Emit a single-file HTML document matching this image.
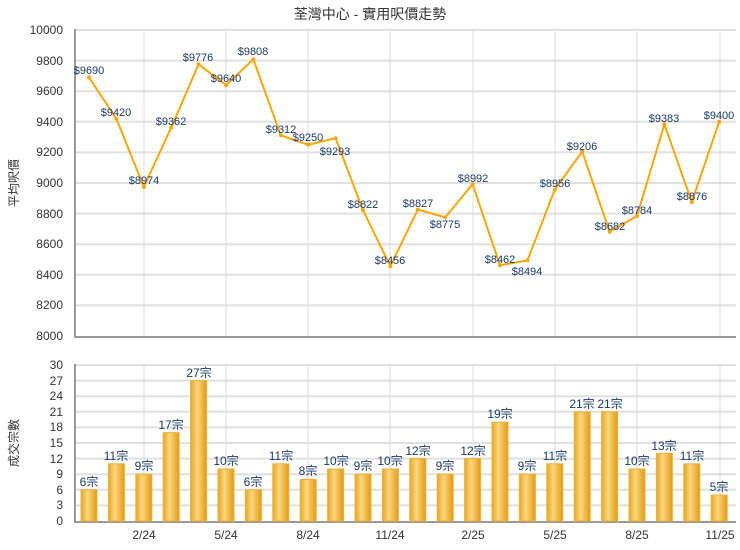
<!DOCTYPE html>
<html><head><meta charset="utf-8"><style>
body{margin:0;background:#fff}
svg{display:block;font-family:"Liberation Sans","Noto Sans CJK TC",sans-serif}
.yl{font-size:12px;fill:#333;text-anchor:end}
.xl{font-size:12px;fill:#333;text-anchor:middle}
.pl{font-size:11px;fill:#1a3a6b;text-anchor:middle}
.bl{font-size:12px;fill:#1a3a6b;text-anchor:middle}
.g{stroke:#e0e0e0;stroke-width:2}
.v{stroke:#dcdcdc;stroke-width:1}
</style></head><body>
<svg width="740" height="550" viewBox="0 0 740 550">
<defs><linearGradient id="bg" x1="0" x2="1" y1="0" y2="0">
<stop offset="0" stop-color="#e9a520"/><stop offset="0.4" stop-color="#fcd77f"/><stop offset="1" stop-color="#e39a12"/></linearGradient></defs>
<text x="370" y="19" text-anchor="middle" font-size="14" fill="#333">荃灣中心 - 實用呎價走勢</text>
<!-- top grid -->
<g class="g">
<line x1="75" x2="736" y1="30" y2="30"/><line x1="75" x2="736" y1="60.6" y2="60.6"/><line x1="75" x2="736" y1="91.2" y2="91.2"/><line x1="75" x2="736" y1="121.8" y2="121.8"/><line x1="75" x2="736" y1="152.4" y2="152.4"/><line x1="75" x2="736" y1="183" y2="183"/><line x1="75" x2="736" y1="213.6" y2="213.6"/><line x1="75" x2="736" y1="244.2" y2="244.2"/><line x1="75" x2="736" y1="274.8" y2="274.8"/><line x1="75" x2="736" y1="305.4" y2="305.4"/>
</g>
<g class="v">
<line x1="144" x2="144" y1="30" y2="336"/><line x1="226" x2="226" y1="30" y2="336"/><line x1="308" x2="308" y1="30" y2="336"/><line x1="390" x2="390" y1="30" y2="336"/><line x1="473" x2="473" y1="30" y2="336"/><line x1="555" x2="555" y1="30" y2="336"/><line x1="637" x2="637" y1="30" y2="336"/><line x1="720" x2="720" y1="30" y2="336"/>
<line x1="144" x2="144" y1="365" y2="521"/><line x1="226" x2="226" y1="365" y2="521"/><line x1="308" x2="308" y1="365" y2="521"/><line x1="390" x2="390" y1="365" y2="521"/><line x1="473" x2="473" y1="365" y2="521"/><line x1="555" x2="555" y1="365" y2="521"/><line x1="637" x2="637" y1="365" y2="521"/><line x1="720" x2="720" y1="365" y2="521"/>
</g>
<path d="M75 29V337H736M75 364V522H736" fill="none" stroke="#999" stroke-width="2"/>
<g class="yl">
<text x="63" y="34">10000</text><text x="63" y="65">9800</text><text x="63" y="95">9600</text><text x="63" y="126">9400</text><text x="63" y="156">9200</text><text x="63" y="187">9000</text><text x="63" y="218">8800</text><text x="63" y="248">8600</text><text x="63" y="279">8400</text><text x="63" y="309">8200</text><text x="63" y="340">8000</text>
</g>
<text transform="translate(18 183) rotate(-90)" text-anchor="middle" font-size="12" fill="#333">平均呎價</text>
<polyline fill="none" stroke="#ffa500" stroke-width="2" points="89,77.4 116.4,118.7 143.8,187 171.2,127.6 198.6,64.3 226,85.1 253.4,59.4 280.8,135.3 308.2,144.8 335.6,138.2 363,210.2 390.4,266.2 417.8,209.5 445.2,217.4 472.6,184.2 500,265.3 527.4,260.4 554.8,189.7 582.2,151.5 609.6,231.7 637,216 664.4,124.4 691.8,202 719.2,121.8"/>
<g fill="#ffa500">
<circle cx="89" cy="77.4" r="2"/><circle cx="116.4" cy="118.7" r="2"/><circle cx="143.8" cy="187" r="2"/><circle cx="171.2" cy="127.6" r="2"/><circle cx="198.6" cy="64.3" r="2"/><circle cx="226" cy="85.1" r="2"/><circle cx="253.4" cy="59.4" r="2"/><circle cx="280.8" cy="135.3" r="2"/><circle cx="308.2" cy="144.8" r="2"/><circle cx="335.6" cy="138.2" r="2"/><circle cx="363" cy="210.2" r="2"/><circle cx="390.4" cy="266.2" r="2"/><circle cx="417.8" cy="209.5" r="2"/><circle cx="445.2" cy="217.4" r="2"/><circle cx="472.6" cy="184.2" r="2"/><circle cx="500" cy="265.3" r="2"/><circle cx="527.4" cy="260.4" r="2"/><circle cx="554.8" cy="189.7" r="2"/><circle cx="582.2" cy="151.5" r="2"/><circle cx="609.6" cy="231.7" r="2"/><circle cx="637" cy="216" r="2"/><circle cx="664.4" cy="124.4" r="2"/><circle cx="691.8" cy="202" r="2"/><circle cx="719.2" cy="121.8" r="2"/>
</g>
<g class="pl">
<text x="89" y="74">$9690</text><text x="116" y="116">$9420</text><text x="144" y="184">$8974</text><text x="171" y="125">$9362</text><text x="198" y="61">$9776</text><text x="226" y="82">$9640</text><text x="253" y="55">$9808</text><text x="281" y="133">$9312</text><text x="308" y="141">$9250</text><text x="335" y="155">$9293</text><text x="363" y="208">$8822</text><text x="390" y="264">$8456</text><text x="418" y="207">$8827</text><text x="445" y="228">$8775</text><text x="473" y="182">$8992</text><text x="500" y="263">$8462</text><text x="527" y="275">$8494</text><text x="555" y="187">$8956</text><text x="582" y="150">$9206</text><text x="610" y="230">$8682</text><text x="637" y="214">$8784</text><text x="664" y="122">$9383</text><text x="692" y="200">$8876</text><text x="719" y="119">$9400</text>
</g>
<!-- bottom grid -->
<g class="g">
<line x1="75" x2="736" y1="365" y2="365"/><line x1="75" x2="736" y1="380.6" y2="380.6"/><line x1="75" x2="736" y1="396.2" y2="396.2"/><line x1="75" x2="736" y1="411.8" y2="411.8"/><line x1="75" x2="736" y1="427.4" y2="427.4"/><line x1="75" x2="736" y1="443" y2="443"/><line x1="75" x2="736" y1="458.6" y2="458.6"/><line x1="75" x2="736" y1="474.2" y2="474.2"/><line x1="75" x2="736" y1="489.8" y2="489.8"/><line x1="75" x2="736" y1="505.4" y2="505.4"/>
</g>
<path d="M75 364V522H736" fill="none" stroke="#999" stroke-width="2"/>
<g class="yl">
<text x="63" y="369">30</text><text x="63" y="385">27</text><text x="63" y="400">24</text><text x="63" y="416">21</text><text x="63" y="431">18</text><text x="63" y="447">15</text><text x="63" y="463">12</text><text x="63" y="478">9</text><text x="63" y="494">6</text><text x="63" y="509">3</text><text x="63" y="525">0</text>
</g>
<text transform="translate(18 443) rotate(-90)" text-anchor="middle" font-size="12" fill="#333">成交宗數</text>
<g fill="url(#bg)" stroke="#f0b030" stroke-width="1">
<rect x="81" y="489.8" width="16" height="31.2"/><rect x="108.4" y="463.8" width="16" height="57.2"/><rect x="135.8" y="474.2" width="16" height="46.8"/><rect x="163.2" y="432.6" width="16" height="88.4"/><rect x="190.6" y="380.6" width="16" height="140.4"/><rect x="218" y="469" width="16" height="52"/><rect x="245.4" y="489.8" width="16" height="31.2"/><rect x="272.8" y="463.8" width="16" height="57.2"/><rect x="300.2" y="479.4" width="16" height="41.6"/><rect x="327.6" y="469" width="16" height="52"/><rect x="355" y="474.2" width="16" height="46.8"/><rect x="382.4" y="469" width="16" height="52"/><rect x="409.8" y="458.6" width="16" height="62.4"/><rect x="437.2" y="474.2" width="16" height="46.8"/><rect x="464.6" y="458.6" width="16" height="62.4"/><rect x="492" y="422.2" width="16" height="98.8"/><rect x="519.4" y="474.2" width="16" height="46.8"/><rect x="546.8" y="463.8" width="16" height="57.2"/><rect x="574.2" y="411.8" width="16" height="109.2"/><rect x="601.6" y="411.8" width="16" height="109.2"/><rect x="629" y="469" width="16" height="52"/><rect x="656.4" y="453.4" width="16" height="67.6"/><rect x="683.8" y="463.8" width="16" height="57.2"/><rect x="711.2" y="495" width="16" height="26"/>
</g>
<g class="bl">
<text x="89" y="486">6宗</text><text x="116" y="460">11宗</text><text x="144" y="470">9宗</text><text x="171" y="429">17宗</text><text x="199" y="377">27宗</text><text x="226" y="465">10宗</text><text x="253" y="486">6宗</text><text x="281" y="460">11宗</text><text x="308" y="475">8宗</text><text x="336" y="465">10宗</text><text x="363" y="470">9宗</text><text x="390" y="465">10宗</text><text x="418" y="455">12宗</text><text x="445" y="470">9宗</text><text x="473" y="455">12宗</text><text x="500" y="418">19宗</text><text x="527" y="470">9宗</text><text x="555" y="460">11宗</text><text x="582" y="408">21宗</text><text x="610" y="408">21宗</text><text x="637" y="465">10宗</text><text x="664" y="450">13宗</text><text x="692" y="460">11宗</text><text x="719" y="491">5宗</text>
</g>
<g class="xl">
<text x="144" y="539">2/24</text><text x="226" y="539">5/24</text><text x="308" y="539">8/24</text><text x="390" y="539">11/24</text><text x="473" y="539">2/25</text><text x="555" y="539">5/25</text><text x="637" y="539">8/25</text><text x="720" y="539">11/25</text>
</g>
</svg>
</body></html>
